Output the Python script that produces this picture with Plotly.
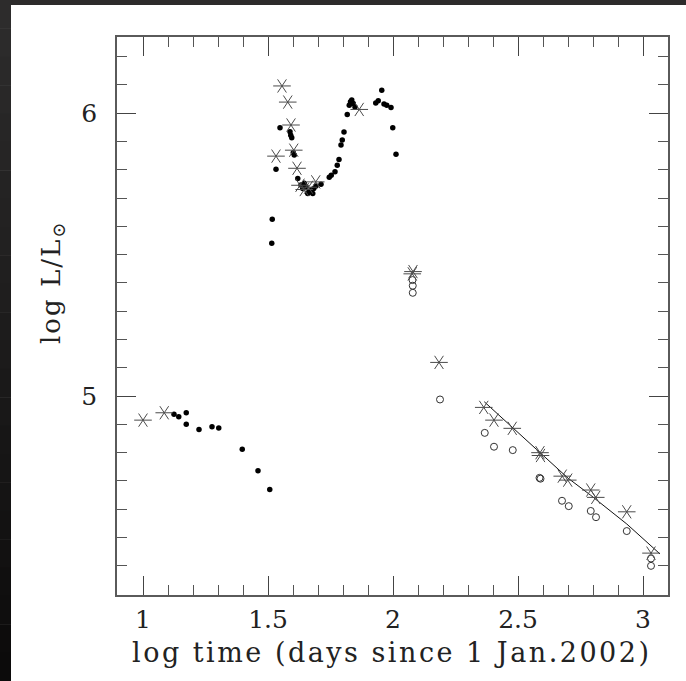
import plotly.graph_objects as go

# ---- data (log time, log L/Lsun) ----
star_x = [1.0, 1.085, 1.532, 1.556, 1.579, 1.592, 1.603, 1.616, 1.628, 1.645, 1.662, 1.691,
          1.865, 2.077, 2.080, 2.184, 2.363, 2.404, 2.477, 2.588, 2.590, 2.677, 2.699,
          2.791, 2.811, 2.935, 3.032]
star_y = [4.915, 4.941, 5.848, 6.096, 6.039, 5.958, 5.869, 5.805, 5.745, 5.730, 5.738, 5.757,
          6.013, 5.432, 5.440, 5.119, 4.960, 4.915, 4.886, 4.800, 4.790, 4.717, 4.703,
          4.668, 4.642, 4.591, 4.445]

dot_x = [1.124, 1.143, 1.173, 1.173, 1.224, 1.276, 1.303, 1.397, 1.460, 1.507,
         1.515, 1.517, 1.532, 1.548, 1.588, 1.591, 1.595, 1.601, 1.605,
         1.619, 1.632, 1.639, 1.652, 1.665, 1.672, 1.683, 1.692, 1.712, 1.645, 1.659, 1.679,
         1.745, 1.753, 1.768, 1.777, 1.784, 1.792, 1.797, 1.804, 1.817, 1.825, 1.830,
         1.835, 1.841, 1.848,
         1.931, 1.941, 1.955, 1.964, 1.975, 1.992, 1.999, 2.012]
dot_y = [4.936, 4.927, 4.941, 4.900, 4.882, 4.892, 4.887, 4.812, 4.736, 4.670,
         5.540, 5.625, 5.802, 5.948, 5.934, 5.922, 5.913, 5.860, 5.852,
         5.769, 5.746, 5.734, 5.740, 5.722, 5.728, 5.734, 5.742, 5.749, 5.752, 5.716, 5.716,
         5.773, 5.780, 5.793, 5.816, 5.836, 5.887, 5.905, 5.933, 5.995, 6.028, 6.040,
         6.046, 6.034, 6.022,
         6.036, 6.044, 6.081, 6.032, 6.028, 6.020, 5.948, 5.855]

circ_x = [2.078, 2.079, 2.079, 2.188, 2.367, 2.404, 2.479, 2.586, 2.590, 2.676, 2.703,
          2.791, 2.812, 2.935, 3.032, 3.032]
circ_y = [5.410, 5.390, 5.365, 4.988, 4.870, 4.821, 4.809, 4.711, 4.708, 4.630, 4.611,
          4.594, 4.572, 4.523, 4.426, 4.400]

fit_x = [2.365, 2.45, 2.588, 2.70, 2.79, 2.935, 3.068]
fit_y = [4.980, 4.912, 4.803, 4.710, 4.650, 4.548, 4.442]

x_title = "log time (days since 1 Jan.2002)"
y_title = "log L/L<sub>⊙</sub>"

# ---- figure ----
W, H = 686, 681
L, R, T, B = 117, 668, 37, 595
FONT = "DejaVu Serif"
TXT = "#222222"

fig = go.Figure()

fig.add_trace(go.Scatter(x=fit_x, y=fit_y, mode="lines",
                         line=dict(color="#111111", width=1), hoverinfo="skip"))
fig.add_trace(go.Scatter(x=circ_x, y=circ_y, mode="markers",
                         marker=dict(symbol="circle-open", size=7, color="#333333",
                                     line=dict(width=1, color="#333333"))))
fig.add_trace(go.Scatter(x=dot_x, y=dot_y, mode="markers",
                         marker=dict(symbol="circle", size=5.5, color="#000000")))
for sym in ["y-left-open", "y-right-open"]:
    fig.add_trace(go.Scatter(x=star_x, y=star_y, mode="markers",
                             marker=dict(symbol=sym, size=11, color="#4a4a4a",
                                         line=dict(width=1, color="#4a4a4a"))))

def px_x(p):
    return (p - L) / (R - L)

def px_y(p):
    return 1 - (p - T) / (B - T)

shapes = []
# dark top strip
shapes.append(dict(type="rect", xref="paper", yref="paper",
                   x0=px_x(0), x1=px_x(W), y0=px_y(5), y1=px_y(0),
                   fillcolor="#2d2b2b", line=dict(width=0), layer="below"))
# dark left strip with vertical gradient
n = 24
for i in range(n):
    y0p = i * H / n
    y1p = (i + 1) * H / n
    f = i / (n - 1)
    c = int(round(45 + (12 - 45) * f))
    shapes.append(dict(type="rect", xref="paper", yref="paper",
                       x0=px_x(0), x1=px_x(11), y0=px_y(y1p + 0.5), y1=px_y(y0p),
                       fillcolor=f"rgb({c},{c - 1},{c - 1})", line=dict(width=0), layer="below"))

axis_common = dict(
    showgrid=False, zeroline=False, showline=True, linecolor="#5a5a5a", linewidth=1.5,
    mirror="allticks", ticks="inside", ticklen=19, tickwidth=1, tickcolor="#444444",
    tickfont=dict(family=FONT, size=25, color=TXT),
)

fig.update_xaxes(range=[0.896, 3.1], tick0=0, dtick=0.5,
                 minor=dict(dtick=0.1, ticks="inside", ticklen=10, tickcolor="#555555", tickwidth=1),
                 ticklabelstandoff=1, **axis_common)
fig.update_yaxes(range=[4.297, 6.269], tick0=0, dtick=1,
                 minor=dict(dtick=0.1, ticks="inside", ticklen=10, tickcolor="#555555", tickwidth=1),
                 ticklabelstandoff=13, **axis_common)

fig.update_layout(
    width=W, height=H,
    margin=dict(l=L, r=W - R, t=T, b=H - B),
    paper_bgcolor="white", plot_bgcolor="white",
    showlegend=False,
    shapes=shapes,
    annotations=[
        dict(text='<span style="letter-spacing:2.5px">' + x_title + '</span>',
             xref="paper", yref="paper", x=px_x(391.5), y=px_y(652),
             xanchor="center", yanchor="middle", showarrow=False,
             font=dict(family=FONT, size=27, color=TXT)),
        dict(text='<span style="letter-spacing:2px">' + y_title + '</span>',
             xref="paper", yref="paper", x=px_x(52), y=px_y(283),
             xanchor="center", yanchor="middle", showarrow=False, textangle=-90,
             font=dict(family=FONT, size=26, color=TXT)),
    ],
)

fig.write_html("out.html")
